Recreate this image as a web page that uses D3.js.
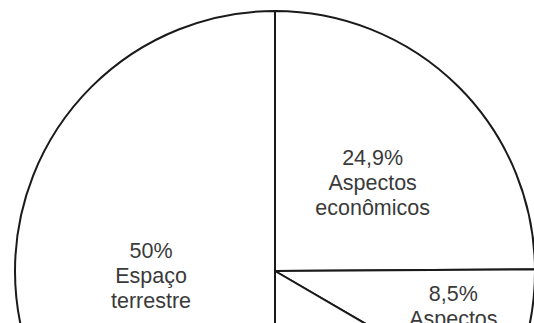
<!DOCTYPE html>
<html>
<head>
<meta charset="utf-8">
<script src="https://cdn.jsdelivr.net/npm/d3@7"></script>
<style>
  html, body { margin: 0; padding: 0; background: #fff; overflow: hidden; }
  svg { display: block; }
  .lbl { font-family: "Liberation Sans", Arial, sans-serif; font-size: 21.5px; fill: #3a3a3a; }
</style>
</head>
<body>
<svg id="chart"></svg>
<script>
const labels = ["Aspectos econômicos", "Aspectos políticos", "Outros", "Espaço terrestre"];
const values = [24.9, 8.5, 16.6, 50];
const valueText = ["24,9%", "8,5%", "16,6%", "50%"];

const width = 534, height = 323;
const cx = 275, cy = 271, r = 260;

const svg = d3.select("#chart").attr("width", width).attr("height", height);
const g = svg.append("g").attr("transform", `translate(${cx},${cy})`);

const data = labels.map((l, i) => ({ label: l, value: values[i], text: valueText[i] }));

const pie = d3.pie().sort(null).value(d => d.value);
const arcs = pie(data);

const arc = d3.arc().innerRadius(0).outerRadius(r);

g.selectAll("path.slice")
  .data(arcs)
  .join("path")
  .attr("class", "slice")
  .attr("d", arc)
  .attr("fill", "#fff")
  .attr("stroke", "#1a1a1a")
  .attr("stroke-width", 2)
  .attr("stroke-linejoin", "round");

// small slices get their label further out
const lblPos = d => {
  const small = d.data.value < 10;
  const k = small ? 0.71 : 0.5;
  const [x, y] = d3.arc().innerRadius(r * k).outerRadius(r * k).centroid(d);
  return small ? [x, y] : [x + 6, y + 4];
};

const lineH = 25;
const lbl = g.selectAll("text.lbl")
  .data(arcs)
  .join("text")
  .attr("class", "lbl")
  .attr("text-anchor", "middle")
  .attr("transform", d => `translate(${lblPos(d)})`);

lbl.each(function(d) {
  const lines = [d.data.text].concat(d.data.label.split(" "));
  const t = d3.select(this);
  lines.forEach((s, i) => {
    t.append("tspan")
      .attr("x", 0)
      .attr("y", (i - (lines.length - 1) / 2) * lineH)
      .attr("dy", "0.35em")
      .text(s);
  });
});
</script>
</body>
</html>
